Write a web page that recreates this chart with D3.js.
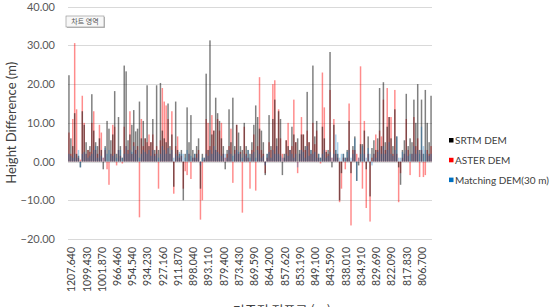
<!DOCTYPE html>
<html>
<head>
<meta charset="utf-8">
<script src="https://cdn.jsdelivr.net/npm/d3@7"></script>
<style>
  body { margin: 0; background: #fff; }
  svg { display: block; }
</style>
</head>
<body>
<div id="chart"></div>
<script>
// tick labels shown on the x axis (every 8th point)
const tickLabels = ["1207.640", "1099.430", "1001.870", "966.460", "954.540", "934.230", "927.160",
  "911.870", "898.040", "893.110", "879.400", "873.430", "869.590", "864.200", "857.620",
  "853.190", "849.100", "843.590", "838.010", "834.910", "829.690", "822.090", "817.830", "806.700"];

const yTicks = [-20, -10, 0, 10, 20, 30, 40];

const seriesNames = ["SRTM DEM", "ASTER DEM", "Matching DEM(30 m)"];

// height difference per check point (m)
const srtm = [
  22.3, 6, 4, 12.5, 2, 1.5, -1.5, 13, 9.5, 5,
  3, 4, 17.4, 8, 5, 4, 6, 3, -2, 4,
  10.5, 8.5, 5.5, 7, 18.2, 2, 11.5, 4, 1, 24.8,
  23.3, 5.5, 7, 9.5, 13.3, 7.8, 8.5, 15.5, 6, 10.5,
  6, 19.7, 4, 5, 11, 3, 19.7, 3, 20.3, 8, 6,
  5, 15, 4, 7, -6.5, 15.5, 3, 2, 3, -10,
  2, 14, 5, 12, 3, 2, 4, 6, -7, 2,
  1, 22.7, 3, 31.3, 7, 8, 16.5, 12.5, 10.5, 6,
  4, -2, 3, 13.5, 5, 16.5, 4, 9.5, 7.5, 4, 3,
  10, 4, 3, 2, 5, 9.5, 14.5, 11.5, 8.5, 8,
  5, -3.5, 2, 12, 4, 11, 16, 6, 13, 11,
  -3.5, 2, 5.5, 4, 3, 9, 7, 5, 6, 3,
  7, 7, 4, 18, 5, 3, 24.8, 6.5, 10.5, 2,
  1, 9, 6, 2.5, 3, 28.3, -1.5, 9.5, 3, 2, -10,
  -3, 2, 1, 3, 10.5, -3, 4, 6.5, -5, -1,
  4.5, 4.5, 8, -2, 6.5, -9, 3.5, 5.5, 3, 6,
  19, 4, 20.5, 5, 9, 11.5, 6, 4, 13.5, 6.5,
  -1.5, -6, 3, 5.5, 17.5, 4, 6, 5, 16, 10, 20,
  3, 16, 2, 18.5, 10, 5, 17
];

const aster = [
  7.5, 2, 11, 30.6, 13.5, 1, 0.5, 17, 10, 2,
  3, 2.5, 10, 13, 3, 2, 9.5, 7.5, 1, 3,
  -2, -6, 2, 9.5, 9, -1, 3, 1.5, -0.5, 9,
  4, 3, 13, 2, 5, 3, 4, -14.4, 11, 4,
  6, 5, 7, 5, 7, 2, 4, -7, 5.5, 19, 15.5,
  14.5, 11, 2, 13, -8.3, 4, 6.5, 1, 1.5, -7,
  -2.5, -3.5, 2, -4.5, 1, 1, 2, 3, -15, -10,
  0.5, 11, 10, 4, 12, 8, 3, 11, 8, 10,
  2, 1, 2, 4, 8.5, -5.5, 3, 9.5, 2, 2.5, -13.2,
  9, 2, 1, -7, 3, 7, -7.5, 4, 21.8, 3,
  2, -3, 1, 5, 3, 20, 21, 4, 13.5, 6,
  2, 1, 5.5, 10, 3, 4, 16, 5, -3, 2,
  11.5, 7, 3, 8, 5, 2, 10, 4.5, 8, 1,
  -0.5, 23, 14, 3, 2, 18.5, 1, 11, 2, 1, -10.5,
  -7, 1, -2, 1, 15, -16.5, 3, 3, 2, 1,
  24.6, -7, 10.5, -12, 2, -15.5, 1, 2, 7, 3,
  8, 6.5, 16, 3, 19, 11.5, 11.5, 2, 18.5, 2,
  -10.5, -3, 1, 2, 11, 3, -3.5, 2, 11.5, 4, 6,
  -4, 3, -4, -3.5, 3, 2, 4
];

const matching = [
  2, 1.5, 1, 2, 1, 3, -1.5, 2, 2.5, 2,
  1, 1.5, 2, 3, 4, 1, 2, 1.5, 1, 3.5,
  2, 3, 2, 1.5, 2, 1, 3, 3, 1, 2,
  4, 2, 3, 2.5, 4, 2, 3, 1, 2, 3,
  2.5, 2, 3, 1.5, 3, 1.5, 2, 1, 2, 4, 3,
  2, 3.5, 2, 3, 1, 2, 1.5, 2.5, 2, 2,
  1, 3, 2, 1.5, 1, 2, 1, 2, -1, 1,
  1, 2, 1.5, 3, 2, 4, 3, 2.5, 2, 1.5,
  2, 2, 1, 3, 2, 1.5, 2, 3, 2.5, 2, 1,
  2, 1.5, 3, 1, 2, 2.5, 1, 3, 2, 1,
  1.5, -1, 2, 2.5, 1, 3, 2, 4, 2, 1.5,
  1, 1, 2, 1.5, 3, 2, 1, 2, -1.5, 2,
  3, 2.5, 1, 4, 1.5, 3, 2, 2.5, 1, 2,
  1, 2, 3, 1, 1.5, 2.5, 1, 2, 7, 5, 1,
  2, 2, 1, 2.5, 3, 1, 2, 6, -5, 1,
  2, 4, 2, 1, 3.5, 2, -1, 2, 1, 2.5,
  3, 2, 4, 2, 3, 5, 2, 1.5, 3, 6.5,
  1, 1, 2.5, 2, 3, 1.5, 2, 2, 4, 2, 3,
  2, 9, 4, 3, 2, 1.5, 2
];

const width = 559, height = 307;
const margin = { top: 6.7, right: 127, bottom: 68, left: 68 };

const colors = ["#000000", "#ff0000", "#0070c0"];
const font = "Lato, 'Liberation Sans', Arial, sans-serif";

const svg = d3.select("#chart").append("svg").attr("width", width).attr("height", height);

const x_scale = d3.scaleBand()
    .domain(d3.range(srtm.length))
    .range([margin.left, width - margin.right])
    .paddingInner(0.22)
    .paddingOuter(0.11);

const y_scale = d3.scaleLinear()
    .domain([-20, 40])
    .range([height - margin.bottom, margin.top]);

// grid lines
svg.append("g")
    .selectAll("line")
    .data(yTicks)
    .join("line")
    .attr("x1", margin.left)
    .attr("x2", width - margin.right)
    .attr("y1", d => Math.round(y_scale(d)) + 0.5)
    .attr("y2", d => Math.round(y_scale(d)) + 0.5)
    .attr("stroke", "#d9d9d9")
    .attr("stroke-width", 1);

// y axis labels
const yAxis = g => g.attr("transform", `translate(${margin.left - 13},0)`)
    .call(d3.axisLeft(y_scale).tickValues(yTicks).tickFormat(d3.format(".2f")).tickSize(0));

svg.append("g")
    .call(yAxis)
    .call(g => g.select(".domain").remove())
    .selectAll("text")
    .attr("x", 0)
    .attr("fill", "#595959")
    .style("font-family", font)
    .style("font-size", "11px");

// bars: the three series sit on top of each other, semi transparent
const seriesData = [aster, srtm, matching];
const seriesColors = [colors[1], colors[0], colors[2]];
const seriesOpacity = [0.45, 0.5, 0.33];

seriesData.forEach((values, si) => {
  svg.append("g")
      .selectAll("rect")
      .data(values)
      .join("rect")
      .attr("x", (d, i) => x_scale(i))
      .attr("width", x_scale.bandwidth())
      .attr("y", d => y_scale(Math.max(0, d)))
      .attr("height", d => Math.abs(y_scale(d) - y_scale(0)))
      .attr("fill", seriesColors[si])
      .attr("fill-opacity", seriesOpacity[si]);
});

// x axis labels, every 8th point
const tickIdx = tickLabels.map((d, i) => i * 8).filter(i => i < srtm.length);

const xAxis = g => g.attr("transform", `translate(0,${y_scale(-20) + 8})`)
    .call(d3.axisBottom(x_scale).tickValues(tickIdx).tickFormat(i => tickLabels[i / 8]).tickSize(0));

svg.append("g")
    .call(xAxis)
    .call(g => g.select(".domain").remove())
    .selectAll("text")
    .attr("y", 0)
    .attr("x", 0)
    .attr("dy", "0.6em")
    .attr("transform", "rotate(-90)")
    .style("text-anchor", "end")
    .attr("fill", "#404040")
    .style("font-family", font)
    .style("font-size", "10.5px");

// axis titles
svg.append("text")
    .text("Height Difference (m)")
    .attr("transform", `translate(16,${(y_scale(40) + y_scale(-20)) / 2}) rotate(-90)`)
    .attr("text-anchor", "middle")
    .attr("fill", "#404040")
    .style("font-family", font)
    .style("font-size", "13px");

// only the top of this title fits in the window, as in the picture
svg.append("text")
    .text("기준점 정표고 (m)")
    .attr("x", 282)
    .attr("y", 315)
    .attr("text-anchor", "middle")
    .attr("fill", "#404040")
    .style("font-family", "'Noto Sans CJK KR', sans-serif")
    .style("font-size", "13px");

// legend
const legend = svg.append("g")
    .selectAll("g")
    .data(seriesNames)
    .join("g")
    .attr("transform", (d, i) => `translate(449,${140.5 + i * 19.8})`);

legend.append("rect")
    .attr("x", 0)
    .attr("y", -2.5)
    .attr("width", 4.5)
    .attr("height", 4.5)
    .attr("fill", (d, i) => colors[i]);

legend.append("text")
    .text(d => d)
    .attr("x", 6)
    .attr("dy", "0.35em")
    .attr("fill", "#404040")
    .style("font-family", font)
    .style("font-size", "10px");

// excel hover tip "chart area"
const tip = svg.append("g").attr("transform", "translate(66,16)");
tip.append("rect")
    .attr("x", 1).attr("y", 1)
    .attr("width", 38).attr("height", 11)
    .attr("fill", "#bdbdbd");
tip.append("rect")
    .attr("width", 38).attr("height", 11)
    .attr("fill", "#f7f7f7")
    .attr("stroke", "#8c8c8c")
    .attr("stroke-width", 0.6);
tip.append("text")
    .text("차트 영역")
    .attr("x", 19).attr("y", 8)
    .attr("text-anchor", "middle")
    .attr("fill", "#555")
    .style("font-family", "'Noto Sans CJK KR', sans-serif")
    .style("font-size", "7px");
</script>
</body>
</html>
